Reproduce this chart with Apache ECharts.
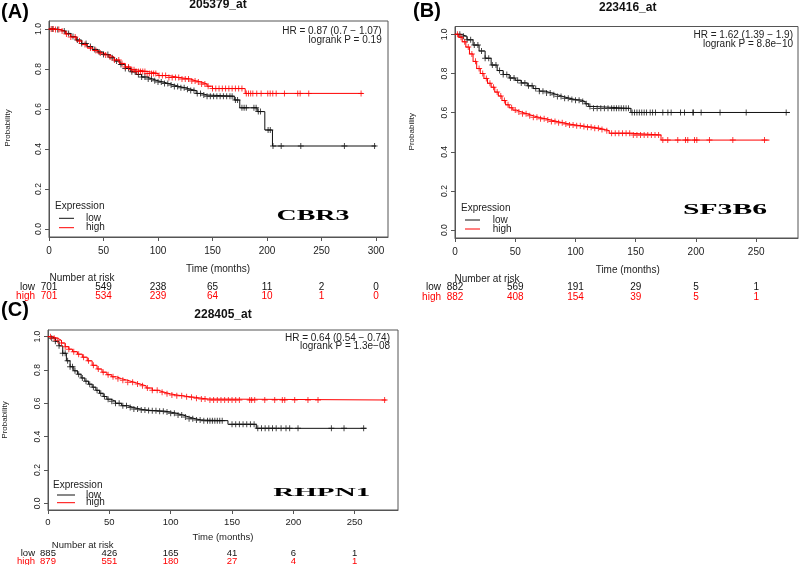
<!DOCTYPE html>
<html><head><meta charset="utf-8">
<script src="https://cdn.jsdelivr.net/npm/echarts@6/dist/echarts.min.js"></script>
<style>html,body{margin:0;padding:0;background:#fff}#c{width:800px;height:565px}</style>
</head><body><div id="c"></div>
<script>
// ---------- data ----------
const yTicks = [0, 0.2, 0.4, 0.6, 0.8, 1.0];
const aXTicks = [0, 50, 100, 150, 200, 250, 300];
const bXTicks = [0, 50, 100, 150, 200, 250];
const cXTicks = [0, 50, 100, 150, 200, 250];

// Panel A (205379_at, CBR3)
const aLowT = [0,5,10,15,20,25,30,35,40,45,50,55,60,65,70,75,80,85,90,95,100,105,110,115,120,125,130,135,140,145,170,175,191,198,205,300];
const aLowS = [1.0,0.997,0.99,0.978,0.962,0.945,0.928,0.912,0.898,0.885,0.872,0.856,0.84,0.822,0.803,0.786,0.773,0.76,0.75,0.741,0.735,0.727,0.72,0.712,0.706,0.699,0.692,0.678,0.67,0.664,0.645,0.606,0.587,0.495,0.415,0.415];
const aHighT = [0,5,10,15,20,25,30,35,40,45,50,55,60,65,70,75,80,90,100,110,120,130,135,140,145,150,180,288];
const aHighS = [1.0,0.997,0.99,0.975,0.96,0.94,0.922,0.905,0.892,0.88,0.87,0.86,0.845,0.828,0.81,0.796,0.788,0.778,0.767,0.757,0.75,0.74,0.735,0.725,0.714,0.702,0.678,0.678];
const aLowCens = [3,8,14,18,22,26,30,34,38,42,46,50,54,58,62,66,70,73,76,79,82,85,88,91,94,97,100,103,106,109,112,115,118,121,124,127,130,133,136,139,142,145,148,151,154,157,160,163,166,168,171,173,177,179,181,188,190,192,194,201,203,205.5,213,231,271,298.7];
const aHighCens = [2,4,6,9,12,16,20,24,28,33,38,43,47,52,56,60,64,67,70,73,76,78,80,82,84,86,88,90,92,94,96,98,101,104,107,110,113,116,119,122,125,128,131,134,137,140,143,146,150,153,156,159,162,165,168,171,174,177,181,183,185,187,190.6,194.6,200.7,202.9,205.3,208.4,216,228.2,230.4,238.3,286.3];
const aRiskTimes = [0,50,100,150,200,250,300];
const aRiskLow = [701,549,238,65,11,2,0];
const aRiskHigh = [701,534,239,64,10,1,0];

// Panel B (223416_at, SF3B6)
const bLowT = [0,5,10,15,20,25,30,35,40,45,50,55,60,65,70,75,80,85,90,95,100,105,108,111,114,146,278];
const bLowS = [1.0,0.99,0.972,0.945,0.915,0.878,0.843,0.815,0.795,0.777,0.765,0.752,0.737,0.723,0.71,0.701,0.692,0.682,0.674,0.667,0.664,0.657,0.645,0.632,0.622,0.601,0.601];
const bHighT = [0,3,6,9,12,15,18,21,24,27,30,33,36,39,42,45,48,51,55,60,65,70,75,80,85,90,95,100,105,110,115,120,125,128,146,171,261];
const bHighS = [1.0,0.985,0.962,0.935,0.9,0.862,0.825,0.8,0.775,0.75,0.73,0.705,0.685,0.662,0.64,0.625,0.613,0.604,0.594,0.584,0.576,0.569,0.562,0.555,0.548,0.542,0.537,0.533,0.529,0.525,0.52,0.514,0.508,0.495,0.486,0.46,0.46];
const bLowCens = [4,7,10,13,16,19,22,25,28,31,34,37,40,43,46,49,52,55,58,61,64,67,70,73,76,79,82,85,88,91,94,97,100,103,106,109,112,115,118,121,124,127,130,132,134,136,138,140,142,144,147,149,151,153,155,157,159,162,164,166.4,172.5,176.7,179.4,187.2,190.5,197.4,197.9,204.3,220,241.7,274.9];
const bHighCens = [2,5,8,11,14,17,20,23,26,29,32,35,38,41,44,47,50,53,56,59,62,65,68,71,74,77,80,83,86,89,92,95,98,101,104,107,110,113,116,119,122,126,130,133,136,139,142,145,148,151,154,157,160,163,166,169,172.5,176.6,184.9,191.3,193.2,198.8,200.7,211.2,230.6,256.9];
const bRiskTimes = [0,50,100,150,200,250];
const bRiskLow = [882,569,191,29,5,1];
const bRiskHigh = [882,408,154,39,5,1];

// Panel C (228405_at, RHPN1)
const cLowT = [0,3,6,9,12,15,18,21,24,27,30,33,36,39,42,45,48,51,55,60,65,70,75,80,85,90,95,100,105,110,115,120,125,146.7,169.8,259.5];
const cLowS = [1.0,0.99,0.972,0.945,0.9,0.855,0.82,0.795,0.775,0.752,0.733,0.715,0.697,0.678,0.66,0.641,0.625,0.613,0.6,0.586,0.575,0.566,0.56,0.557,0.555,0.553,0.548,0.54,0.53,0.518,0.508,0.5,0.496,0.474,0.45,0.45];
const cHighT = [0,4,8,11,14,17,20,24,28,32,36,40,44,48,52,56,60,65,70,75,80,85,90,95,100,105,110,115,120,125,130,275.8];
const cHighS = [1.0,0.99,0.978,0.962,0.94,0.925,0.91,0.895,0.877,0.855,0.828,0.806,0.787,0.772,0.759,0.748,0.738,0.727,0.716,0.705,0.692,0.678,0.666,0.657,0.65,0.645,0.64,0.636,0.631,0.626,0.62,0.62];
const cLowCens = [3,6,9,12,14,16,18,20,22,25,28,31,34,37,40,43,46,49,52,55,58,61,64,67,70,73,76,79,82,85,88,91,94,97,100,103,106,109,112,115,118,121,124,127,130,132,134,136,138,140,142,150,153,156,159,162,165,168,171,174,177,180,183,186,190,194,197,203.8,231,241.3,257.3];
const cHighCens = [2,5,8,11,14,17,21,25,29,33,37,41,45,49,53,57,61,65,69,73,77,81,85,89,93,97,101,105,109,113,117,121,125,128,132,135,138,141,144,147,150,153,156,164.4,166,168.5,176.7,184.8,191,193,201.1,211.9,220.1,274.4];
const cRiskTimes = [0,50,100,150,200,250];
const cRiskLow = [885,426,165,41,6,1];
const cRiskHigh = [879,551,180,27,4,1];

const probeIds = ['205379_at','223416_at','228405_at'];
const geneNames = ['CBR3','SF3B6','RHPN1'];
const hrTexts = ['HR = 0.87 (0.7 \u2212 1.07)','HR = 1.62 (1.39 \u2212 1.9)','HR = 0.64 (0.54 \u2212 0.74)'];
const pTexts = ['logrank P = 0.19','logrank P = 8.8e\u221210','logrank P = 1.3e\u221208'];
const panelTags = ['(A)','(B)','(C)'];
const groupNames = ['low','high'];

// ---------- layout ----------
const RED = '#ff0000', BLK = '#111111';
const SANS = '"Liberation Sans", Arial, sans-serif';
const L = [
  {grid:{left:49,top:21,width:339,height:216}, xmax:311, ticks:aXTicks, lblMargin:9, fs:10,
   tag:[15,12], title:[218,5], hr:[381.7,31.7,40.7], xname:[218,269], yname:[8,128],
   nar:[82,278], rows:[287.3,296.7], rowLblX:35,
   leg:{ex:55,ey:206.7,x1:59,x2:74,y1:218.3,y2:227.7,lx:86}, gene:[313,216.5,73,15]},
  {grid:{left:455,top:26.5,width:343,height:211.5}, xmax:284.7, ticks:bXTicks, lblMargin:9, fs:10,
   tag:[427,11], title:[627.7,7.3], hr:[793,35,44.3], xname:[627.7,270], yname:[411.7,131.7],
   nar:[487,279.3], rows:[287.5,297], rowLblX:441,
   leg:{ex:461,ey:208.3,x1:465,x2:480,y1:220,y2:229,lx:492.7}, gene:[725,210,84,15]},
  {grid:{left:48,top:330,width:350,height:180}, xmax:285.3, ticks:cXTicks, lblMargin:7, fs:9.5,
   tag:[15,310], title:[223,315], hr:[390,338.3,346], xname:[223,537.7], yname:[5,420],
   nar:[82.7,545], rows:[553.8,561.5], rowLblX:35,
   leg:{ex:53,ey:485,x1:57,x2:75,y1:495,y2:502.7,lx:86}, gene:[321.7,492.3,97,12.5]}
];

const curves = [
  {low:[aLowT,aLowS,aLowCens], high:[aHighT,aHighS,aHighCens], risk:[aRiskTimes,aRiskLow,aRiskHigh]},
  {low:[bLowT,bLowS,bLowCens], high:[bHighT,bHighS,bHighCens], risk:[bRiskTimes,bRiskLow,bRiskHigh]},
  {low:[cLowT,cLowS,cLowCens], high:[cHighT,cHighS,cHighCens], risk:[cRiskTimes,cRiskLow,cRiskHigh]}
];

function km(T,S){ return T.map((t,i)=>[t,S[i]]); }
function survAt(T,S,t){ let s=S[0]; for(let i=0;i<T.length;i++){ if(T[i]<=t) s=S[i]; else break; } return s; }
function cens(T,S,C){ return C.map(t=>[t, survAt(T,S,t)]); }
const PLUS = 'path://M4.2,0H5.8V10H4.2ZM0,4.2H10V5.8H0Z';

const grids=[], xAxes=[], yAxes=[], series=[];
L.forEach((p,i)=>{
  grids.push(Object.assign({show:true, borderColor:'#555', borderWidth:1, backgroundColor:'transparent'}, p.grid));
  xAxes.push({type:'value', gridIndex:i, min:0, max:p.xmax, position:'bottom',
    axisLine:{show:true, onZero:false, lineStyle:{color:'#555', width:1}}, splitLine:{show:false},
    axisTick:{show:true, inside:false, length:4, lineStyle:{color:'#555'}, customValues:p.ticks},
    axisLabel:{customValues:p.ticks, margin:p.lblMargin, color:'#222', fontFamily:SANS, fontSize:p.fs}});
  yAxes.push({type:'value', gridIndex:i, min:-0.04, max:1.04, position:'left',
    axisLine:{show:true, onZero:false, lineStyle:{color:'#555', width:1}}, splitLine:{show:false},
    axisTick:{show:true, inside:false, length:4, lineStyle:{color:'#555'}, customValues:yTicks},
    axisLabel:{customValues:yTicks, rotate:90, margin:6, color:'#222', fontFamily:SANS, fontSize:8.5,
      formatter:v=>v.toFixed(1)}});
  const c = curves[i];
  [['low',BLK],['high',RED]].forEach(([g,col])=>{
    const [T,S,C] = c[g];
    series.push({type:'line', xAxisIndex:i, yAxisIndex:i, step:'end', data:km(T,S),
      showSymbol:false, lineStyle:{color:col, width:1}, itemStyle:{color:col}, z:2, silent:true});
    series.push({type:'scatter', xAxisIndex:i, yAxisIndex:i, data:cens(T,S,C),
      symbol:PLUS, symbolSize:6, itemStyle:{color:col}, z:3, silent:true});
  });
});

const chart = echarts.init(document.getElementById('c'), null, {renderer:'canvas'});
chart.setOption({animation:false, backgroundColor:'#fff', grid:grids, xAxis:xAxes, yAxis:yAxes, series:series});

// ---------- text annotations ----------
function T(x,y,text,font,fill,align,va,extra){
  return Object.assign({type:'text', x:x, y:y, z:10, silent:true,
    style:{text:text, font:font, fill:fill||'#111', align:align||'center', verticalAlign:va||'middle',
      textAlign:align||'center', textVerticalAlign:va||'middle'}}, extra||{});
}
const ctx = document.createElement('canvas').getContext('2d');
function textW(s,font){ ctx.font=font; return ctx.measureText(s).width; }

const g = [];
L.forEach((p,i)=>{
  const f10 = p.fs + 'px ' + SANS;
  g.push(T(p.tag[0],p.tag[1],panelTags[i],'bold 20px '+SANS,'#000'));
  g.push(T(p.title[0],p.title[1],probeIds[i],'bold 12px '+SANS,'#111'));
  g.push(T(p.hr[0],p.hr[1],hrTexts[i],'10px '+SANS,'#222','right'));
  g.push(T(p.hr[0],p.hr[2],pTexts[i],'10px '+SANS,'#222','right'));
  g.push(T(p.xname[0],p.xname[1],'Time (months)',f10,'#222'));
  g.push(T(p.yname[0],p.yname[1],'Probability','8px '+SANS,'#222','center','middle',{rotation:Math.PI/2}));
  g.push(T(p.nar[0],p.nar[1],'Number at risk',f10,'#222'));
  const lg = p.leg;
  g.push(T(lg.ex,lg.ey,'Expression','10px '+SANS,'#222','left'));
  g.push({type:'line', z:10, silent:true, shape:{x1:lg.x1,y1:lg.y1,x2:lg.x2,y2:lg.y1}, style:{stroke:BLK,lineWidth:1}});
  g.push({type:'line', z:10, silent:true, shape:{x1:lg.x1,y1:lg.y2,x2:lg.x2,y2:lg.y2}, style:{stroke:RED,lineWidth:1}});
  g.push(T(lg.lx,lg.y1,groupNames[0],'10px '+SANS,'#222','left'));
  g.push(T(lg.lx,lg.y2,groupNames[1],'10px '+SANS,'#222','left'));
  const gf = 'bold '+p.gene[3]+'px "Liberation Serif", "Times New Roman", serif';
  const w = textW(geneNames[i], gf) || 1;
  g.push(T(p.gene[0],p.gene[1],geneNames[i],gf,'#000','center','middle',{scaleX:p.gene[2]/w}));
  const [RT,RL,RH] = curves[i].risk;
  g.push(T(p.rowLblX,p.rows[0],groupNames[0],f10,'#111','right'));
  g.push(T(p.rowLblX,p.rows[1],groupNames[1],f10,RED,'right'));
  RT.forEach((t,k)=>{
    const px = chart.convertToPixel({gridIndex:i},[t,0])[0];
    g.push(T(px,p.rows[0],String(RL[k]),f10,'#111'));
    g.push(T(px,p.rows[1],String(RH[k]),f10,RED));
  });
});
chart.setOption({graphic:{elements:g}});
</script></body></html>
